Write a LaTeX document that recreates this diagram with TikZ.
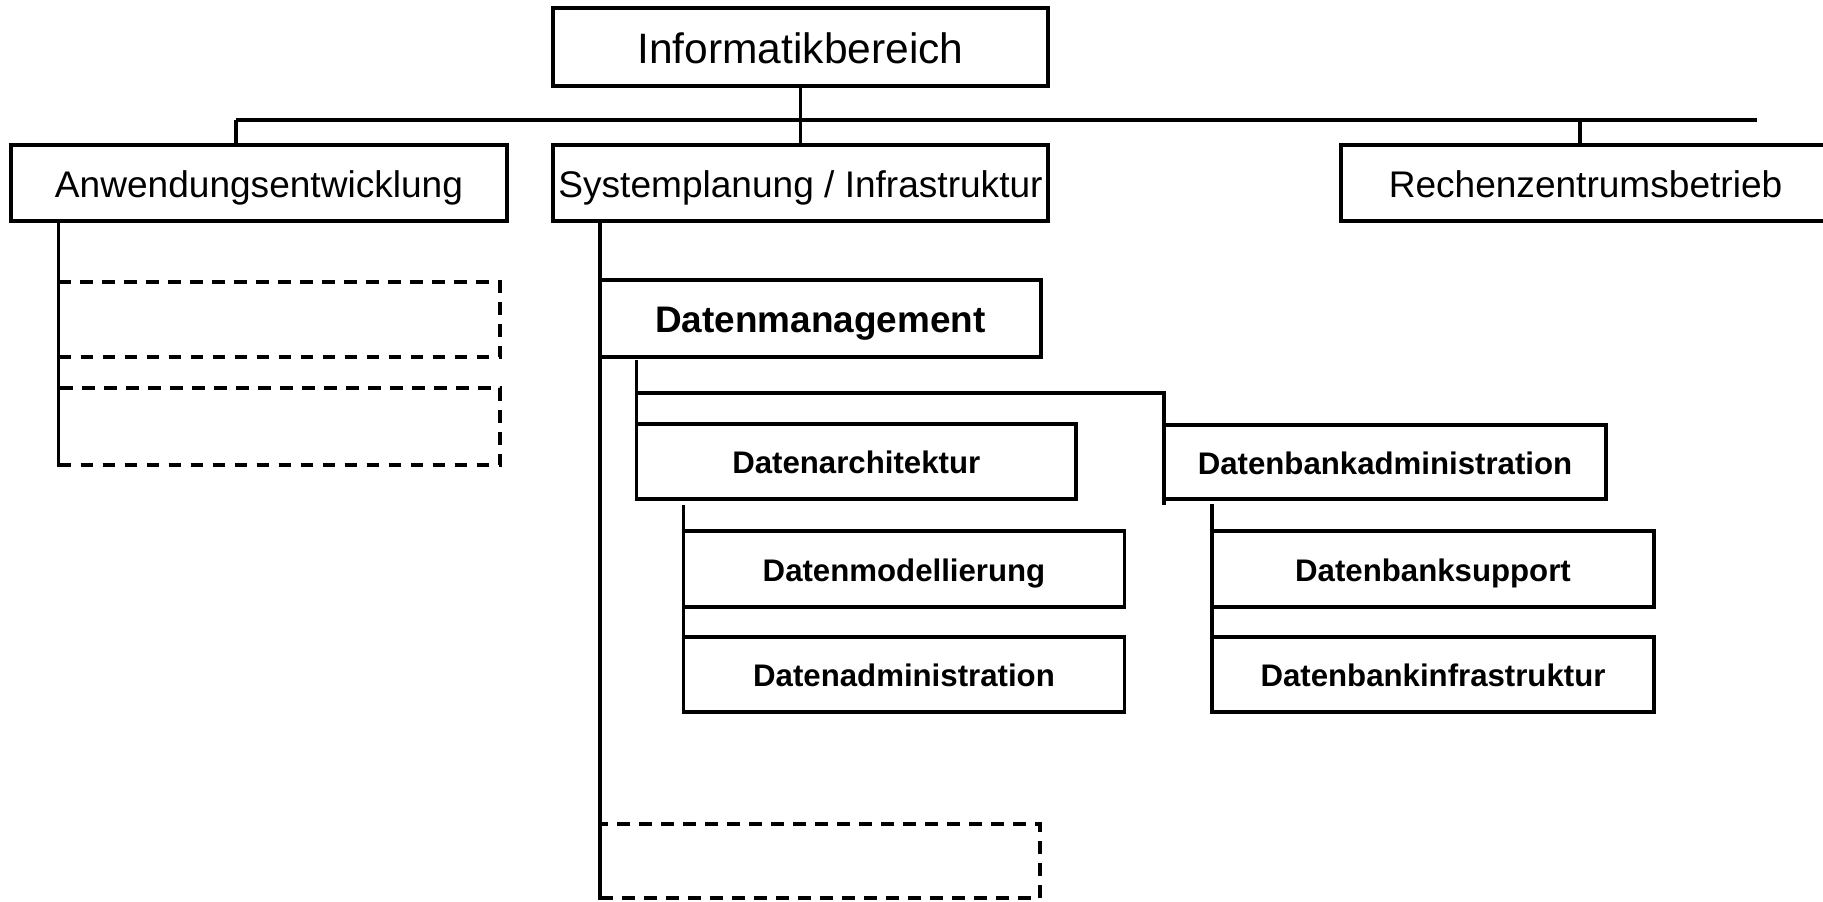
\documentclass[tikz,border=0pt]{standalone}
\usepackage{fontspec}
\setmainfont{Liberation Sans}
\begin{document}
\begin{tikzpicture}[x=0.75pt,y=-0.75pt,line width=2.5pt,
  unit/.style={draw, rectangle, inner sep=0pt, align=center, line width=2.5pt},
  topunit/.style={unit, font=\fontsize{31.9}{36}\selectfont, text height=24.6pt, text depth=0pt},
  mainunit/.style={unit, font=\fontsize{27.8}{32}\selectfont, text height=21.4pt, text depth=0pt},
  dmunit/.style={unit, font=\fontsize{27.7}{32}\selectfont\bfseries, text height=21.3pt, text depth=0pt},
  subunit/.style={unit, font=\fontsize{23.4}{28}\selectfont\bfseries, text height=18pt, text depth=0pt},
  spare/.style={draw, rectangle, inner sep=0pt, line width=2.5pt, dash pattern=on 9.5pt off 7pt},
  link/.style={draw, line width=2.5pt}]
\useasboundingbox (0,0) rectangle (1823,901);

% top level
\node[topunit, minimum width=495*0.75pt, minimum height=78*0.75pt] (info) at (800.5,47) {Informatikbereich};

% departments
\node[mainunit, minimum width=496*0.75pt, minimum height=76*0.75pt] (anw) at (259,183) {Anwendungsentwicklung};
\node[mainunit, minimum width=495*0.75pt, minimum height=76*0.75pt] (sys) at (800.5,183) {Systemplanung / Infrastruktur};
\node[mainunit, minimum width=489*0.75pt, minimum height=76*0.75pt] (rech) at (1585.5,183) {Rechenzentrumsbetrieb};

% unnamed units
\node[spare, minimum width=441.5*0.75pt, minimum height=75*0.75pt] (ph1) at (279.25,319.5) {};
\node[spare, minimum width=441.5*0.75pt, minimum height=77*0.75pt] (ph2) at (279.25,426.5) {};
\node[spare, minimum width=440*0.75pt, minimum height=74*0.75pt] (ph3) at (820,861) {};

% data management
\node[dmunit, minimum width=441*0.75pt, minimum height=77*0.75pt] (dm) at (820.5,318.5) {Datenmanagement};
\node[subunit, minimum width=439.5*0.75pt, minimum height=75*0.75pt] (da) at (856.25,461.5) {Datenarchitektur};
\node[subunit, minimum width=442*0.75pt, minimum height=74*0.75pt] (dba) at (1385,462) {Datenbankadministration};
\node[subunit, minimum width=441*0.75pt, minimum height=76*0.75pt] (dmod) at (904,569) {Datenmodellierung};
\node[subunit, minimum width=441*0.75pt, minimum height=75*0.75pt] (dadm) at (904,674.5) {Datenadministration};
\node[subunit, minimum width=442*0.75pt, minimum height=76*0.75pt] (dbs) at (1433,569) {Datenbanksupport};
\node[subunit, minimum width=442*0.75pt, minimum height=75*0.75pt] (dbi) at (1433,674.5) {Datenbankinfrastruktur};

% bus below the top level
\coordinate (busL) at (236,120);
\coordinate (busR) at (1757,120);
\draw[link] (info) -- (sys);
\draw[link] (busL) -- (busR);
\draw[link] (busL) -- (busL |- anw.north);
\coordinate (rtop) at (1580,145);
\draw[link] (rtop) -- (rtop |- busR);

% stems
\coordinate (a0) at (58.5,221);
\draw[link] (a0) -- (a0 |- ph2.south);
\coordinate (s0) at (600,221);
\draw[link] (s0) -- (s0 |- ph3.south);
\coordinate (m0) at (636.5,360);
\draw[link] (m0) -- (m0 |- da.south);
\coordinate (m1) at (636.5,393);
\coordinate (m2) at (1164,505);
\draw[link] (m1) -| (m2);
\coordinate (d0) at (683.5,505);
\draw[link] (d0) -- (d0 |- dadm.south);
\coordinate (b0) at (1212,504);
\draw[link] (b0) -- (b0 |- dbi.south);
\end{tikzpicture}
\end{document}
